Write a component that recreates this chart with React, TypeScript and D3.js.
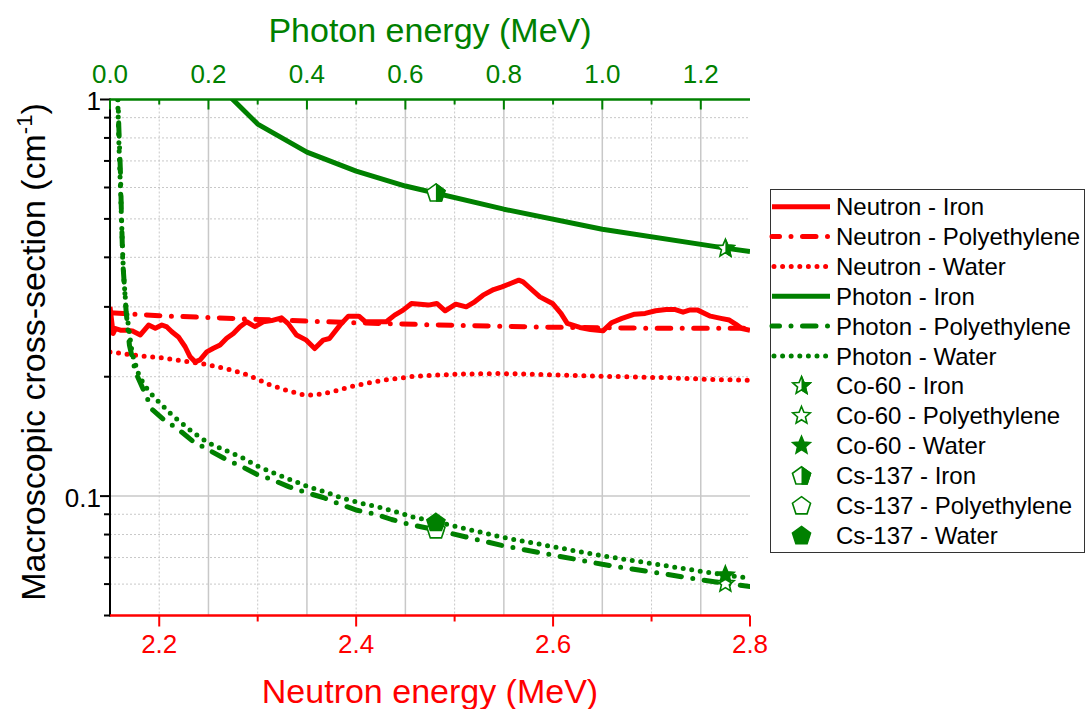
import React from "react";
import * as d3 from "d3";

// ---------- data ----------
// Neutron macroscopic cross-sections (cm^-1) vs neutron energy (MeV)
const neutronIronEnergy = [2.15, 2.1532, 2.1556, 2.1606, 2.1674, 2.1724, 2.1808, 2.1892, 2.196, 2.2027, 2.2078, 2.2128, 2.2195, 2.2263, 2.2314, 2.2365, 2.2415, 2.2483, 2.255, 2.2618, 2.2685, 2.2753, 2.282, 2.2888, 2.2972, 2.3056, 2.3141, 2.3242, 2.3309, 2.3394, 2.3494, 2.3579, 2.3665, 2.3729, 2.3836, 2.3921, 2.4028, 2.4092, 2.4221, 2.4306, 2.4391, 2.4477, 2.4562, 2.4648, 2.4733, 2.4819, 2.4904, 2.5011, 2.5118, 2.5204, 2.5289, 2.5396, 2.5481, 2.5567, 2.5652, 2.5695, 2.5759, 2.5866, 2.5994, 2.608, 2.6144, 2.6272, 2.6379, 2.6507, 2.6593, 2.67, 2.6828, 2.6935, 2.7042, 2.7149, 2.7234, 2.732, 2.7384, 2.7469, 2.7598, 2.7704, 2.779, 2.7854, 2.7918, 2.8];
const neutronIronSigma = [0.3, 0.257, 0.2646, 0.262, 0.262, 0.261, 0.2549, 0.2699, 0.265, 0.27, 0.267, 0.2597, 0.252, 0.238, 0.2245, 0.218, 0.2205, 0.231, 0.236, 0.2405, 0.25, 0.257, 0.2674, 0.2752, 0.2674, 0.2752, 0.277, 0.2816, 0.2722, 0.2549, 0.2473, 0.2356, 0.2473, 0.2497, 0.2699, 0.2843, 0.2843, 0.2752, 0.2752, 0.2752, 0.286, 0.2944, 0.306, 0.3048, 0.3031, 0.306, 0.2933, 0.3048, 0.3001, 0.309, 0.3211, 0.3318, 0.337, 0.3436, 0.3503, 0.3469, 0.3357, 0.318, 0.306, 0.2888, 0.2725, 0.2662, 0.2631, 0.261, 0.2736, 0.2806, 0.2876, 0.2888, 0.2933, 0.2955, 0.2955, 0.291, 0.2944, 0.2944, 0.2843, 0.2806, 0.2779, 0.2715, 0.2647, 0.262];

const neutronPolyEnergy = [2.15, 2.2, 2.3, 2.4, 2.5, 2.6, 2.7, 2.8];
const neutronPolySigma = [0.29, 0.285, 0.279, 0.2735, 0.2695, 0.2665, 0.265, 0.265];

const neutronWaterEnergy = [2.15, 2.175, 2.2, 2.225, 2.25, 2.27, 2.285, 2.3, 2.31, 2.329, 2.3464, 2.3552, 2.3643, 2.3734, 2.3825, 2.3914, 2.4005, 2.4183, 2.4306, 2.4605, 2.5033, 2.546, 2.5888, 2.6315, 2.6742, 2.717, 2.7597, 2.8];
const neutronWaterSigma = [0.231, 0.2265, 0.2235, 0.219, 0.2143, 0.209, 0.204, 0.197, 0.1916, 0.185, 0.18, 0.1797, 0.1808, 0.1829, 0.185, 0.1879, 0.1901, 0.1941, 0.1965, 0.2007, 0.203, 0.2038, 0.2026, 0.2011, 0.1999, 0.1988, 0.1969, 0.196];

// Photon linear attenuation coefficients (cm^-1) vs photon energy (MeV)
const photonIronEnergy = [0.2, 0.3, 0.4, 0.5, 0.6, 0.8, 1.0, 1.25, 1.3];
const photonIronSigma = [1.15, 0.867, 0.737, 0.66, 0.605, 0.529, 0.471, 0.422, 0.414];

const photonPolyEnergy = [0.0158, 0.0178, 0.0213, 0.0233, 0.0259, 0.0328, 0.0395, 0.0517, 0.0855, 0.109, 0.141, 0.17, 0.204, 0.234, 0.266, 0.298, 0.332, 0.364, 0.4, 0.433, 0.467, 0.502, 0.54, 0.572, 0.6075, 0.662, 0.8, 1.0, 1.25, 1.3];
const photonPolySigma = [1.08, 0.86, 0.65, 0.51, 0.39, 0.2915, 0.24, 0.2057, 0.1654, 0.156, 0.1466, 0.137, 0.13, 0.1241, 0.119, 0.1135, 0.1097, 0.1055, 0.1019, 0.0992, 0.0954, 0.0921, 0.09, 0.0873, 0.0849, 0.0822, 0.0749, 0.0673, 0.0602, 0.0592];

const photonWaterEnergy = [0.015, 0.0166, 0.0178, 0.0193, 0.0213, 0.0233, 0.026, 0.028, 0.0328, 0.0381, 0.045, 0.058, 0.07, 0.089, 0.126, 0.17, 0.2, 0.234, 0.268, 0.3, 0.332, 0.369, 0.403, 0.437, 0.474, 0.508, 0.545, 0.582, 0.615, 0.662, 0.8, 1.0, 1.25, 1.3];
const photonWaterSigma = [1.05, 0.914, 0.798, 0.697, 0.597, 0.502, 0.4, 0.355, 0.297, 0.265, 0.229, 0.203, 0.19, 0.178, 0.16, 0.1443, 0.1362, 0.1305, 0.1251, 0.119, 0.1144, 0.1097, 0.1055, 0.1024, 0.0986, 0.0961, 0.0939, 0.0912, 0.0886, 0.0861, 0.0786, 0.0707, 0.0632, 0.0621];

// Gamma source lines
const co60Energy = 1.25;
const cs137Energy = 0.662;
const co60Sigma = [0.421, 0.0602, 0.0632]; // iron, polyethylene, water
const cs137Sigma = [0.583, 0.0825, 0.0861]; // iron, polyethylene, water

// Axis ticks
const photonMajor = [0, 0.2, 0.4, 0.6, 0.8, 1.0, 1.2];
const photonMinor = [0.1, 0.3, 0.5, 0.7, 0.9, 1.1];
const neutronMajor = [2.2, 2.4, 2.6, 2.8];
const neutronMinor = [2.3, 2.5, 2.7];
const sigmaMajor = [0.1, 1];
const sigmaMinor = [0.05, 0.06, 0.07, 0.08, 0.09, 0.2, 0.3, 0.4, 0.5, 0.6, 0.7, 0.8, 0.9];

// ---------- styling ----------
const RED = "#ff0000";
const GREEN = "#008000";
const FONT = "'Liberation Sans', Arial, Helvetica, sans-serif";

type Dash = "solid" | "dashdot" | "dot";
const dashStyle: Record<Dash, { dash?: string; width: number }> = {
  solid: { width: 5 },
  dashdot: { dash: "13.5 11.5 0 11.5", width: 5 },
  dot: { dash: "0 8.6", width: 5 },
};

const X0 = 110, X1 = 750, Y0 = 99.5, Y1 = 615.5;

function starPath(R: number) {
  const r = R * 0.45;
  const pts: [number, number][] = [];
  for (let i = 0; i < 10; i++) {
    const a = -Math.PI / 2 + (i * Math.PI) / 5;
    const rad = i % 2 === 0 ? R : r;
    pts.push([rad * Math.cos(a), rad * Math.sin(a)]);
  }
  return "M" + pts.map((p) => p.join(",")).join("L") + "Z";
}

function pentagonPath(R: number) {
  const pts: [number, number][] = [];
  for (let i = 0; i < 5; i++) {
    const a = -Math.PI / 2 + (i * 2 * Math.PI) / 5;
    pts.push([R * Math.cos(a), R * Math.sin(a) + R * 0.1]);
  }
  return "M" + pts.map((p) => p.join(",")).join("L") + "Z";
}

type Fill = "half" | "open" | "full";

function Marker({ shape, fill, cx, cy }: { shape: "star" | "pentagon"; fill: Fill; cx: number; cy: number }) {
  const d = shape === "star" ? starPath(9.2) : pentagonPath(9.5);
  return (
    <g transform={`translate(${cx},${cy})`}>
      <path d={d} fill={fill === "full" ? GREEN : "#ffffff"} stroke={GREEN} strokeWidth={1.6} strokeLinejoin="miter" />
      {fill === "half" && <path d={d} fill={GREEN} stroke={GREEN} strokeWidth={1.6} clipPath="url(#rightHalf)" />}
    </g>
  );
}

export default function App() {
  const xN = d3.scaleLinear().domain([2.15, 2.8]).range([X0, X1]);
  const xP = d3.scaleLinear().domain([0, 1.3]).range([X0, X1]);
  const y = d3.scaleLog().domain([0.05, 1]).range([Y1, Y0]);

  const lines = [
    { name: "Neutron - Iron", xs: neutronIronEnergy, vs: neutronIronSigma, sx: xN, color: RED, dash: "solid" as Dash },
    { name: "Neutron - Polyethylene", xs: neutronPolyEnergy, vs: neutronPolySigma, sx: xN, color: RED, dash: "dashdot" as Dash },
    { name: "Neutron - Water", xs: neutronWaterEnergy, vs: neutronWaterSigma, sx: xN, color: RED, dash: "dot" as Dash },
    { name: "Photon - Iron", xs: photonIronEnergy, vs: photonIronSigma, sx: xP, color: GREEN, dash: "solid" as Dash },
    { name: "Photon - Polyethylene", xs: photonPolyEnergy, vs: photonPolySigma, sx: xP, color: GREEN, dash: "dashdot" as Dash },
    { name: "Photon - Water", xs: photonWaterEnergy, vs: photonWaterSigma, sx: xP, color: GREEN, dash: "dot" as Dash },
  ];

  const materials = ["Iron", "Polyethylene", "Water"];
  const fills: Fill[] = ["half", "open", "full"];
  const markers = [
    ...materials.map((m, i) => ({ name: `Co-60 - ${m}`, e: co60Energy, v: co60Sigma[i], shape: "star" as const, fill: fills[i] })),
    ...materials.map((m, i) => ({ name: `Cs-137 - ${m}`, e: cs137Energy, v: cs137Sigma[i], shape: "pentagon" as const, fill: fills[i] })),
  ];

  const lineGen = (sx: d3.ScaleLinear<number, number>) =>
    d3
      .line<[number, number]>()
      .x((d) => sx(d[0]))
      .y((d) => y(d[1]));

  const gridStroke = "#c8c8c8";
  const legendX = 770.5, legendY = 189.5, legendW = 314, legendH = 363;
  const rowY = (i: number) => 206.7 + 29.85 * i;

  return (
    <svg width={1086} height={709} style={{ position: "absolute", left: 0, top: 0, background: "#fff" }} fontFamily={FONT}>
      <defs>
        <clipPath id="plotArea">
          <rect x={X0} y={Y0} width={X1 - X0} height={Y1 - Y0} />
        </clipPath>
        <clipPath id="rightHalf" clipPathUnits="userSpaceOnUse">
          <rect x={0} y={-20} width={20} height={40} />
        </clipPath>
      </defs>
      <rect x={0} y={0} width={1086} height={709} fill="#fff" />

      {/* grid */}
      <g>
        {photonMinor.map((t) => (
          <line key={"gvm" + t} x1={xP(t)} x2={xP(t)} y1={Y0} y2={Y1} stroke={gridStroke} strokeWidth={1} strokeDasharray="2 2" />
        ))}
        {photonMajor.filter((t) => t > 0).map((t) => (
          <line key={"gvM" + t} x1={xP(t)} x2={xP(t)} y1={Y0} y2={Y1} stroke={gridStroke} strokeWidth={1.5} />
        ))}
        {sigmaMinor.filter((t) => t > 0.05).map((t) => (
          <line key={"ghm" + t} x1={X0} x2={X1} y1={y(t)} y2={y(t)} stroke={gridStroke} strokeWidth={1} strokeDasharray="2 2" />
        ))}
        {sigmaMajor.filter((t) => t < 1).map((t) => (
          <line key={"ghM" + t} x1={X0} x2={X1} y1={y(t)} y2={y(t)} stroke={gridStroke} strokeWidth={1.5} />
        ))}
      </g>

      {/* curves */}
      <g clipPath="url(#plotArea)">
        {lines.map((s) => {
          const st = dashStyle[s.dash];
          const pts = s.xs.map((e, i) => [e, s.vs[i]] as [number, number]);
          return (
            <path
              key={s.name}
              d={lineGen(s.sx)(pts) || ""}
              fill="none"
              stroke={s.color}
              strokeWidth={st.width}
              strokeDasharray={st.dash}
              strokeLinecap={s.dash === "solid" ? "butt" : "round"}
              strokeLinejoin="round"
            />
          );
        })}
      </g>

      {/* left axis */}
      <g>
        <line x1={X0} x2={X0} y1={Y0 - 1} y2={Y1 + 1} stroke="#000" strokeWidth={2} />
        {sigmaMajor.map((t) => (
          <line key={"lM" + t} x1={X0 - 10} x2={X0} y1={y(t)} y2={y(t)} stroke="#000" strokeWidth={2} />
        ))}
        {sigmaMinor.map((t) => (
          <line key={"lm" + t} x1={X0 - 6} x2={X0} y1={y(t)} y2={y(t)} stroke="#000" strokeWidth={2} />
        ))}
        {sigmaMajor.map((t) => (
          <text key={"lt" + t} x={X0 - 9} y={y(t) + 10.5} textAnchor="end" fontSize={26} fill="#000">
            {d3.format("~g")(t)}
          </text>
        ))}
        <text transform={`translate(45,352) rotate(-90)`} textAnchor="middle" fontSize={34} fill="#000">
          Macroscopic cross-section (cm
          <tspan fontSize={22} dy={-13}>-1</tspan>
          <tspan dy={13}>)</tspan>
        </text>
      </g>

      {/* top axis: photon energy */}
      <g>
        <line x1={X0} x2={X1} y1={Y0} y2={Y0} stroke={GREEN} strokeWidth={2.5} />
        {photonMajor.map((t) => (
          <line key={"tM" + t} x1={xP(t)} x2={xP(t)} y1={Y0} y2={Y0 + 10} stroke={GREEN} strokeWidth={2} />
        ))}
        {photonMinor.map((t) => (
          <line key={"tm" + t} x1={xP(t)} x2={xP(t)} y1={Y0} y2={Y0 + 5} stroke={GREEN} strokeWidth={2} />
        ))}
        {photonMajor.map((t) => (
          <text key={"tt" + t} x={xP(t)} y={82.5} textAnchor="middle" fontSize={26} fill={GREEN}>
            {d3.format(".1f")(t)}
          </text>
        ))}
        <text x={(X0 + X1) / 2} y={42} textAnchor="middle" fontSize={34} fill={GREEN}>
          Photon energy (MeV)
        </text>
      </g>

      {/* bottom axis: neutron energy */}
      <g>
        <line x1={X0} x2={X1} y1={Y1} y2={Y1} stroke={RED} strokeWidth={2.5} />
        {neutronMajor.map((t) => (
          <line key={"bM" + t} x1={xN(t)} x2={xN(t)} y1={Y1} y2={Y1 + 11} stroke={RED} strokeWidth={2} />
        ))}
        {neutronMinor.map((t) => (
          <line key={"bm" + t} x1={xN(t)} x2={xN(t)} y1={Y1} y2={Y1 + 6} stroke={RED} strokeWidth={2} />
        ))}
        {neutronMajor.map((t) => (
          <text key={"bt" + t} x={xN(t)} y={653} textAnchor="middle" fontSize={26} fill={RED}>
            {d3.format(".1f")(t)}
          </text>
        ))}
        <text x={(X0 + X1) / 2} y={703} textAnchor="middle" fontSize={34} fill={RED}>
          Neutron energy (MeV)
        </text>
      </g>

      {/* source markers */}
      <g>
        {markers.map((m) => (
          <Marker key={m.name} shape={m.shape} fill={m.fill} cx={xP(m.e)} cy={y(m.v)} />
        ))}
      </g>

      {/* legend */}
      <g>
        <rect x={legendX} y={legendY} width={legendW} height={legendH} fill="#fff" stroke="#333" strokeWidth={1} />
        {lines.map((s, i) => {
          const st = dashStyle[s.dash];
          return (
            <g key={"leg" + s.name}>
              <line
                x1={772}
                x2={830}
                y1={rowY(i)}
                y2={rowY(i)}
                stroke={s.color}
                strokeWidth={st.width}
                strokeDasharray={st.dash}
                strokeDashoffset={s.dash === "dashdot" ? 6 : s.dash === "dot" ? -2 : 0}
                strokeLinecap={s.dash === "solid" ? "butt" : "round"}
              />
              <text x={836} y={rowY(i) + 8.6} fontSize={24} fill="#000">
                {s.name}
              </text>
            </g>
          );
        })}
        {markers.map((m, j) => {
          const i = j + lines.length;
          return (
            <g key={"legm" + m.name}>
              <Marker shape={m.shape} fill={m.fill} cx={801.5} cy={rowY(i)} />
              <text x={836} y={rowY(i) + 8.6} fontSize={24} fill="#000">
                {m.name}
              </text>
            </g>
          );
        })}
      </g>
    </svg>
  );
}
